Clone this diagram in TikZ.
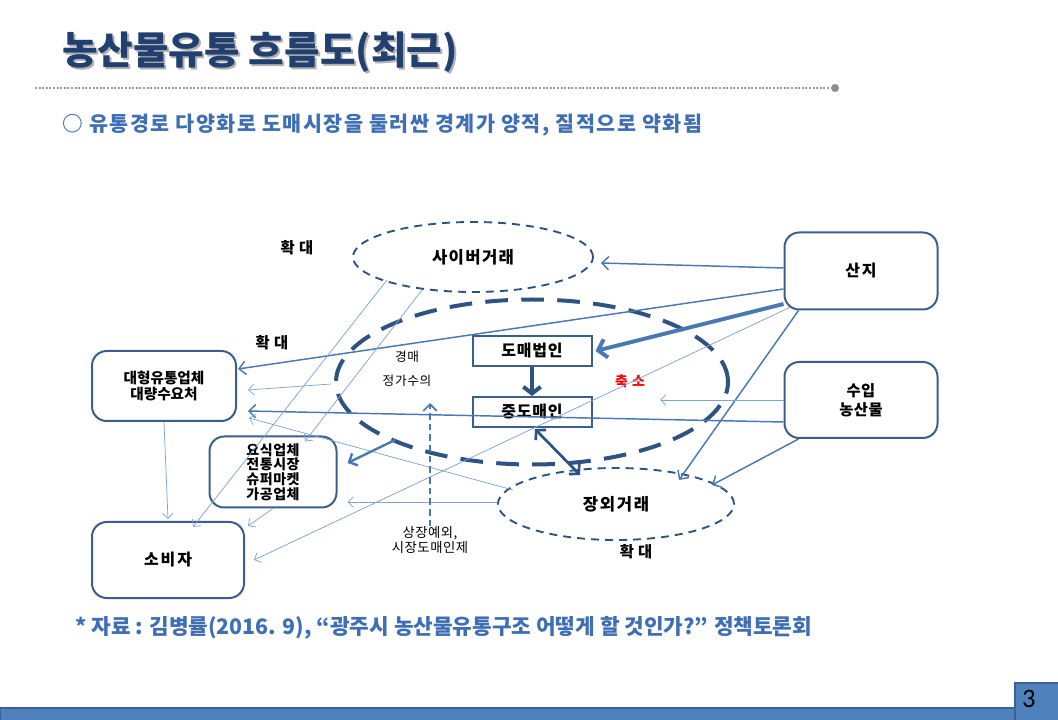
\documentclass[tikz,border=0pt]{standalone}
\usepackage{fontspec}
\setmainfont{Noto Sans CJK KR}
\newfontfamily\numfont{Carlito}
\usetikzlibrary{arrows.meta,shapes.geometric,calc}
\definecolor{navy}{HTML}{21406F}
\definecolor{subblue}{HTML}{3E6EB4}
\definecolor{boxblue}{HTML}{3B5E8C}
\definecolor{lineblue}{HTML}{4A78B5}
\definecolor{thinblue}{HTML}{7FA2D2}
\definecolor{dashblue}{HTML}{2E5282}
\definecolor{barblue}{HTML}{4F81BD}
\definecolor{bardark}{HTML}{3A6395}
\begin{document}
\begin{tikzpicture}[x=0.75pt,y=-0.75pt,
  rbox/.style={draw=boxblue,line width=1.5pt,rounded corners=11pt,fill=white,align=center,inner sep=0pt},
  sqbox/.style={draw=boxblue,line width=1.5pt,fill=white,align=center,inner sep=0pt,minimum width=89.25pt,minimum height=22.5pt,
    font=\fontsize{12}{14}\selectfont\bfseries\addfontfeature{LetterSpace=5}},
  smallell/.style={ellipse,draw=dashblue,line width=1.4pt,dash pattern=on 6pt off 4.5pt,inner sep=0pt},
  bigell/.style={ellipse,draw=dashblue,line width=3pt,dash pattern=on 17pt off 10pt,inner sep=0pt},
  medarrow/.style={draw=lineblue,line width=1.1pt,-{Straight Barb[length=5pt,width=10pt]}},
  thinarrow/.style={draw=thinblue,line width=0.55pt,-{Straight Barb[length=4pt,width=8pt]}},
  bigarrow/.style={draw=lineblue,line width=3pt,-{Straight Barb[length=6pt,width=14pt]}},
  darkarrow/.style={draw=dashblue,line width=2pt,{Straight Barb[length=5pt,width=11pt]}-{Straight Barb[length=5pt,width=11pt]}},
  downarrow/.style={draw=dashblue,line width=3pt,-{Straight Barb[length=5pt,width=13pt]}},
  dasharrow/.style={draw=lineblue,line width=1.3pt,dash pattern=on 5pt off 3pt,-{Straight Barb[length=5pt,width=10pt]}},
  lab/.style={font=\fontsize{11.5}{13}\selectfont\bfseries\addfontfeature{LetterSpace=28},text=black,inner sep=0pt},
  smalllab/.style={font=\fontsize{9.5}{10.5}\selectfont\addfontfeature{LetterSpace=5},text=black,inner sep=0pt,align=center}
]
\useasboundingbox (0,0) rectangle (1058,720);
\fill[white] (0,0) rectangle (1058,720);

% title
\node[anchor=west,text=black!30,font=\fontsize{29}{32}\selectfont\bfseries,inner sep=0pt] (titleshadow) at (64,54) {농산물유통 흐름도(최근)};
\node[anchor=west,text=navy,font=\fontsize{29}{32}\selectfont\bfseries,inner sep=0pt] (title) at (62,52) {농산물유통 흐름도(최근)};
\coordinate (dotstart) at (35,88);
\coordinate (dotend) at (835,88);
\draw[black!40,line width=2.2pt,dash pattern=on 1.5pt off 1.2pt] (dotstart) -- (dotend);
\fill[black!45] (dotend) circle[radius=3pt];
\node[anchor=west,text=subblue,font=\fontsize{15.5}{17}\selectfont\bfseries\addfontfeature{LetterSpace=7},inner sep=0pt] (sub) at (62,125) {○ 유통경로 다양화로 도매시장을 둘러싼 경계가 양적, 질적으로 약화됨};

% big market ellipse
\node[bigell,minimum width=294pt,minimum height=123.75pt] (market) at (532,382) {};

% small ellipses
\node[smallell,minimum width=180pt,minimum height=52.5pt,font=\fontsize{12.5}{14}\selectfont\bfseries\addfontfeature{LetterSpace=8}] (cyber) at (473,257) {사이버거래};
\node[smallell,minimum width=177pt,minimum height=54pt,font=\fontsize{12.5}{14}\selectfont\bfseries\addfontfeature{LetterSpace=10}] (jangoe) at (616,504) {장외거래};

% boxes
\node[rbox,minimum width=114.75pt,minimum height=57.75pt,font=\fontsize{12}{14}\selectfont\bfseries\addfontfeature{LetterSpace=12}] (sanji) at (861,271) {산지};
\node[rbox,minimum width=114.75pt,minimum height=57pt,font=\fontsize{11.5}{14}\selectfont\bfseries\addfontfeature{LetterSpace=3}] (suip) at (861,400) {수입\\농산물};
\node[rbox,minimum width=108pt,minimum height=52.5pt,font=\fontsize{11}{12}\selectfont\bfseries] (daehyung) at (164,386) {대형유통업체\\대량수요처};
\node[rbox,minimum width=95.25pt,minimum height=53.25pt,font=\fontsize{10.5}{11}\selectfont\bfseries\addfontfeature{LetterSpace=4}] (yosik) at (273,472) {요식업체\\전통시장\\슈퍼마켓\\가공업체};
\node[rbox,minimum width=114pt,minimum height=57pt,font=\fontsize{12}{14}\selectfont\bfseries\addfontfeature{LetterSpace=12}] (sobija) at (168,560) {소비자};
\node[sqbox] (domae) at (532,351) {도매법인};
\node[sqbox] (jung) at (532,412) {중도매인};

% labels
\node[lab] (hwak1) at (297,248) {확대};
\node[lab] (hwak2) at (272,343) {확대};
\node[lab] (hwak3) at (636,552) {확대};
\node[lab,text=red,font=\fontsize{10.5}{12}\selectfont\bfseries\addfontfeature{LetterSpace=30}] (chuk) at (630,381) {축소};
\node[smalllab] (gyeong) at (407,357) {경매};
\node[smalllab] (jeong) at (407,381) {정가수의};
\node[smalllab,font=\fontsize{10}{11}\selectfont\addfontfeature{LetterSpace=4}] (sang) at (430,540) {상장예외,\\시장도매인제};
\coordinate (suipend) at (660,400);
\coordinate (dashend) at (430,403);

% connectors
\draw[medarrow] ($(sanji.west)+(0,-3)$) -- ($(cyber.east)+(7,6)$);
\draw[medarrow] ($(sanji.west)+(0,18)$) -- ($(daehyung.east)+(1,-17)$);
\draw[bigarrow] ($(sanji.west)+(0,33)$) -- ($(domae.east)+(3,0)$);
\draw[thinarrow] ($(sanji.south west)+(6,-3)$) -- ($(sobija.east)+(9,0)$);
\draw[medarrow] ($(sanji.south west)+(15,0)$) -- ($(jangoe.center)+(63,-24)$);
\draw[medarrow] ($(suip.south west)+(15,0)$) -- ($(jangoe.center)+(96,-19)$);
\draw[thinarrow] (suip.west) -- (suipend);
\draw[medarrow] ($(suip.west)+(0,22)$) -- ($(daehyung.east)+(11,25)$);
\draw[thinarrow] ($(cyber.center)+(-86,23)$) -- ($(sobija.north)+(25,6)$);
\draw[thinarrow] ($(cyber.center)+(-51,33)$) -- ($(yosik.north)+(32,6)$);
\draw[thinarrow] (daehyung.south) -- ($(sobija.north)+(0,-2)$);
\draw[thinarrow] (yosik.south) -- ($(sobija.north east)+(3,5)$);
\draw[thinarrow] ($(market.west)+(-3,2)$) -- ($(daehyung.east)+(11,4)$);
\draw[thinarrow] ($(jangoe.center)+(-103,-14)$) -- ($(daehyung.east)+(12,32)$);
\draw[thinarrow] ($(jangoe.west)+(0,-2)$) -- ($(yosik.east)+(10,30)$);
\draw[medarrow,line width=1.8pt] ($(market.center)+(-137,58)$) -- ($(yosik.east)+(10,-9)$);
\draw[darkarrow] ($(jung.south)+(3,1)$) -- ($(jangoe.center)+(-36,-29)$);
\draw[downarrow] (domae.south) -- (jung.north);
\draw[dasharrow] (sang.north) -- (dashend);

% footer
\node[anchor=west,text=subblue,font=\fontsize{16}{18}\selectfont\bfseries,inner sep=0pt] (source) at (75,628) {* 자료 : 김병률(2016. 9), “광주시 농산물유통구조 어떻게 할 것인가?” 정책토론회};
\draw[bardark,fill=barblue,line width=0.8pt] (0,708) rectangle (1015,721);
\draw[bardark,fill=barblue,line width=0.8pt] (1015,683) rectangle (1059,721) node[midway,text=black,font=\numfont\fontsize{20}{22}\selectfont,xshift=-6pt,yshift=2pt] (pagenum) {3};
\end{tikzpicture}
\end{document}
